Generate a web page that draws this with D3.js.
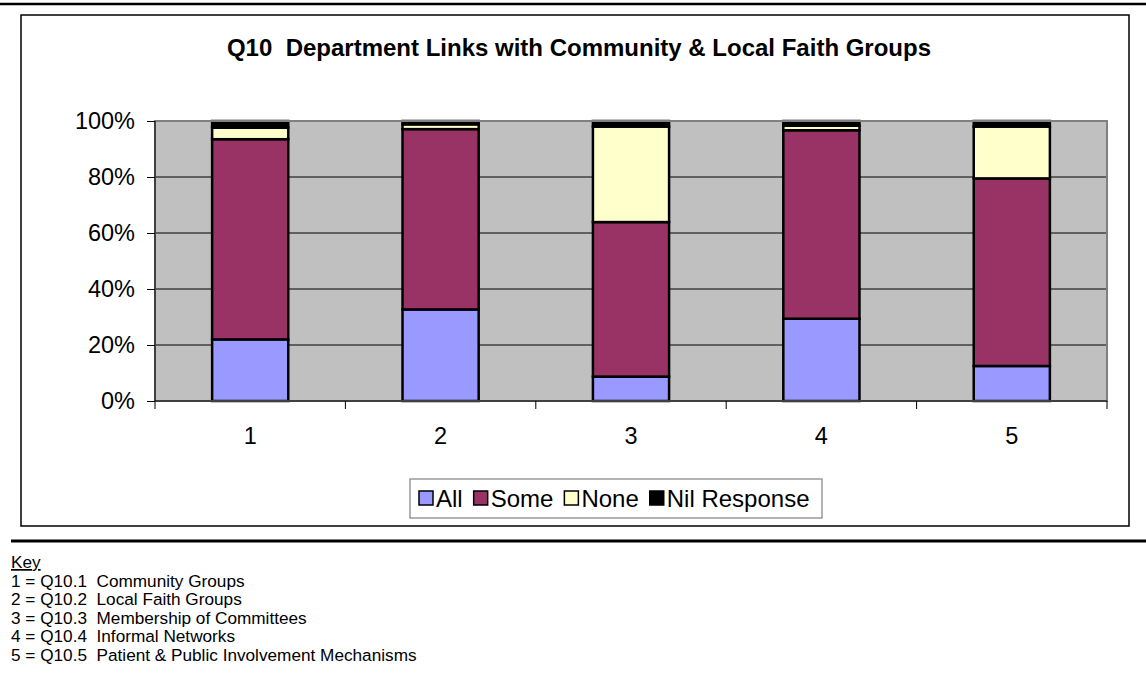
<!DOCTYPE html>
<html><head><meta charset="utf-8">
<script src="https://cdn.jsdelivr.net/npm/d3@7"></script>
<style>html,body{margin:0;padding:0;background:#fff;}svg{display:block;font-family:"Liberation Sans",Arial,sans-serif;}</style>
</head><body>
<svg id="c" width="1146" height="688"></svg>
<script>
const categories = ["1","2","3","4","5"];
const seriesNames = ["All","Some","None","Nil Response"];
const allVals  = [22.0, 32.7, 8.7, 29.4, 12.5];
const someVals = [71.5, 64.4, 55.2, 67.3, 67.0];
const noneVals = [4.1, 1.7, 34.1, 1.6, 18.5];
const nilVals  = [2.4, 1.2, 2.0, 1.7, 2.0];
const yTicks = [0, 20, 40, 60, 80, 100];
const title = "Q10  Department Links with Community & Local Faith Groups";
const keyLines = ["1 = Q10.1  Community Groups","2 = Q10.2  Local Faith Groups","3 = Q10.3  Membership of Committees","4 = Q10.4  Informal Networks","5 = Q10.5  Patient & Public Involvement Mechanisms"];
const colors = ["#9999FF","#993366","#FFFFCC","#000000"];

const svg = d3.select("#c");
const P = {l:155, r:1107, t:121, b:401};

// outer decorations
svg.append("line").attr("x1",0).attr("x2",1146).attr("y1",4).attr("y2",4).attr("stroke","#000").attr("stroke-width",2.5);
svg.append("rect").attr("x",21).attr("y",15).attr("width",1108).attr("height",511).attr("fill","#fff").attr("stroke","#000").attr("stroke-width",1.5);
svg.append("line").attr("x1",11).attr("x2",1146).attr("y1",541).attr("y2",541).attr("stroke","#000").attr("stroke-width",3);

svg.append("text").attr("x",579).attr("y",56).attr("text-anchor","middle").attr("font-weight","bold").attr("font-size",24)
  .style("white-space","pre").text(title);

const x = d3.scaleBand().domain(categories).range([P.l,P.r]).paddingInner(0.6).paddingOuter(0.3);
const y = d3.scaleLinear().domain([0,100]).range([P.b,P.t]);

svg.append("rect").attr("x",P.l).attr("y",P.t).attr("width",P.r-P.l).attr("height",P.b-P.t).attr("fill","#C0C0C0");
// gridlines
svg.append("g").selectAll("line").data(yTicks.filter(d=>d>0 && d<100)).join("line")
  .attr("x1",P.l).attr("x2",P.r).attr("y1",d=>y(d)).attr("y2",d=>y(d)).attr("stroke","#000").attr("stroke-width",1);

// stacked bars
const table = categories.map((c,i)=>({cat:c, "All":allVals[i], "Some":someVals[i], "None":noneVals[i], "Nil Response":nilVals[i]}));
const stack = d3.stack().keys(seriesNames)(table);
svg.append("g").selectAll("g").data(stack).join("g").attr("fill",(d,i)=>colors[i])
  .selectAll("rect").data(d=>d).join("rect")
  .attr("x",d=>x(d.data.cat)).attr("width",x.bandwidth())
  .attr("y",d=>y(d[1])).attr("height",d=>y(d[0])-y(d[1]))
  .attr("stroke","#000").attr("stroke-width",2.5);

// plot border
svg.append("rect").attr("x",P.l).attr("y",P.t).attr("width",P.r-P.l).attr("height",P.b-P.t).attr("fill","none").attr("stroke","#808080").attr("stroke-width",2);

// y axis
const yAxis = d3.axisLeft(y).tickValues(yTicks).tickFormat(d=>d+"%").tickSize(8).tickPadding(12);
const gy = svg.append("g").attr("transform",`translate(${P.l},0)`).call(yAxis);
gy.select(".domain").attr("stroke","#000").attr("d",`M0,${P.t}V${P.b}`);
gy.selectAll(".tick line").attr("stroke","#000");
gy.selectAll("text").attr("font-size",23.5).attr("font-family","'Liberation Sans',Arial,sans-serif").attr("fill","#000");

// x axis
const xAxis = d3.axisBottom(x).tickSize(0).tickPadding(26);
const gx = svg.append("g").attr("transform",`translate(0,${P.b})`).call(xAxis);
gx.select(".domain").attr("stroke","#000").attr("d",`M${P.l},0H${P.r}`);
gx.selectAll("text").attr("font-size",23.5).attr("font-family","'Liberation Sans',Arial,sans-serif").attr("fill","#000");
const step = x.step();
svg.append("g").selectAll("line").data(d3.range(categories.length+1)).join("line")
  .attr("x1",i=>P.l+i*step).attr("x2",i=>P.l+i*step).attr("y1",P.b).attr("y2",P.b+8).attr("stroke","#000");

// legend
const lg = svg.append("g");
lg.append("rect").attr("x",410).attr("y",479).attr("width",412).attr("height",39).attr("fill","#fff").attr("stroke","#808080").attr("stroke-width",1.2);
let lx = 419;
seriesNames.forEach((s,i)=>{
  lg.append("rect").attr("x",lx).attr("y",491).attr("width",14).attr("height",14).attr("fill",colors[i]).attr("stroke","#000").attr("stroke-width",1.5);
  const t = lg.append("text").attr("x",lx+17).attr("y",507).attr("font-size",24).text(s);
  lx += 17 + t.node().getComputedTextLength() + 11;
});

// key
svg.append("text").attr("x",11).attr("y",568).attr("font-size",17.2).attr("text-decoration","underline").text("Key");
svg.append("g").selectAll("text").data(keyLines).join("text")
  .attr("x",11).attr("y",(d,i)=>586.5+i*18.5).attr("font-size",17.2).style("white-space","pre").text(d=>d);
</script>
</body></html>
